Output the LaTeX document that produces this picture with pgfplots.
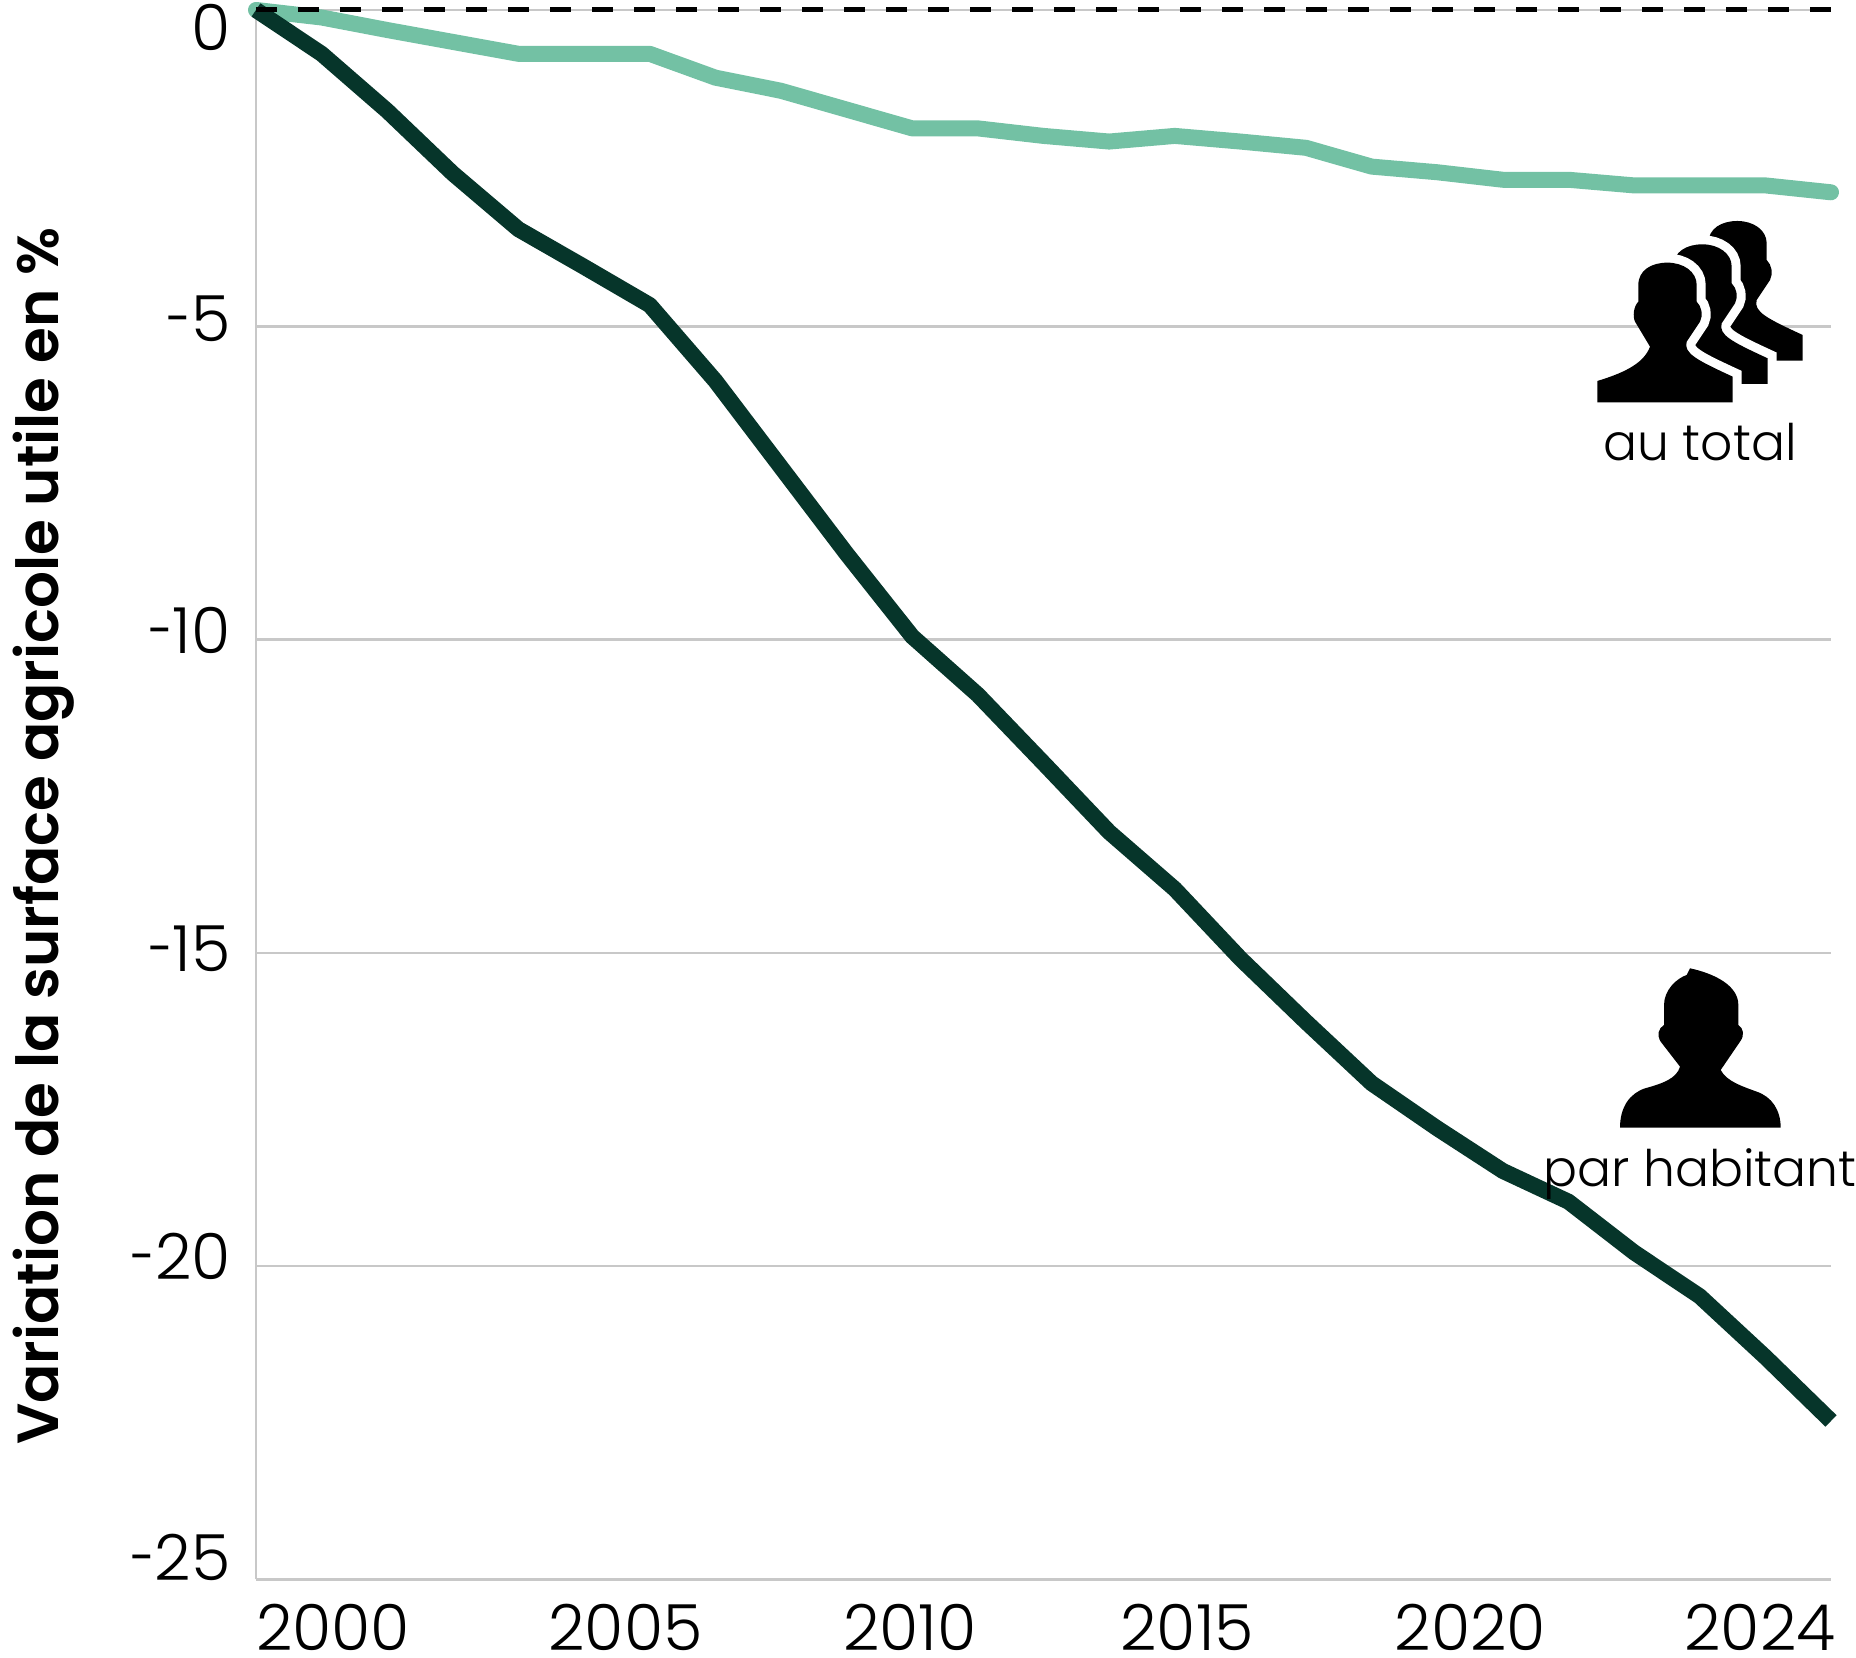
\documentclass[border=0pt]{standalone}
\usepackage{fontspec}
\setmainfont{Poppins Light}[BoldFont={Poppins SemiBold}]
\usepackage{pgfplots}
\pgfplotsset{compat=1.18}
\definecolor{gridc}{HTML}{C8C8C8}
\definecolor{lightg}{HTML}{73C1A4}
\definecolor{darkg}{HTML}{06352A}
\newcommand{\sx}[2]{\makebox[0pt]{\kern#1pt\kern#1pt #2}}
\newcommand{\ry}[2]{\raisebox{#1pt}[0pt][0pt]{#2}}
\newcommand{\hy}{\scalebox{0.72}[1]{-}}
\newcommand{\personback}{(340,607) -- (295,305) -- (295,255) .. controls (295,210) and (335,188) .. (382,188) .. controls (430,188) and (470,215) .. (470,255) -- (470,305) .. controls (485,320) and (490,345) .. (480,365) -- (440,425) .. controls (430,460) and (470,480) .. (578,530) -- (578,607) -- cycle}
\newcommand{\personedge}{(330,205) .. controls (345,193) and (362,188) .. (382,188) .. controls (430,188) and (470,215) .. (470,255) -- (470,305) .. controls (485,320) and (490,345) .. (480,365) -- (440,425) .. controls (430,460) and (470,480) .. (578,530) -- (578,640)}
\newcommand{\personfront}{(172,607) -- (172,543) .. controls (240,522) and (310,495) .. (330,440) -- (285,365) .. controls (278,350) and (280,320) .. (295,305) -- (295,255) .. controls (295,210) and (335,188) .. (382,188) .. controls (430,188) and (470,215) .. (470,255) -- (470,305) .. controls (485,320) and (490,345) .. (480,365) -- (440,425) .. controls (430,460) and (470,480) .. (578,530) -- (578,607) -- cycle}
\begin{document}
\begin{tikzpicture}
\useasboundingbox (-128pt,-39.25pt) rectangle (800pt,789.75pt);
\begin{axis}[
  at={(0pt,0pt)}, anchor=south west,
  scale only axis, width=787.5pt, height=784.75pt,
  xmin=2000, xmax=2024, ymin=-25, ymax=0.05,
  clip=false,
  axis x line*=bottom, axis y line*=left,
  axis line style={gridc, line width=1.2pt, -},
  major tick length=0pt,
  ymajorgrids, major grid style={gridc, line width=1.2pt},
  xtick={2000,2005,2010,2015,2020,2024},
  xticklabels={\sx{38.5}{2000},\sx{20.7}{2005},\sx{-1.2}{2010},\sx{-26.6}{2015},\sx{-49}{2020},\sx{-35.5}{2024}},
  ytick={0.05,-5,-10,-15,-20,-25},
  yticklabels={\ry{-20.2}{0},\ry{-7.35}{\hy 5},\ry{-6.85}{\hy 10},\ry{-9.05}{\hy 15},\ry{-6.85}{\hy 20},\ry{-0.4}{\hy 25}},
  tick label style={font=\fontsize{31.8}{31.8}\selectfont, inner sep=0pt},
  yticklabel style={anchor=east, xshift=-12.5pt},
  xticklabel style={anchor=north, yshift=-12pt},
  ylabel={\textbf{Variation de la surface agricole utile en \%}},
  ylabel style={font=\fontsize{29}{29}\selectfont, at={(axis description cs:-0.135,0.4737)}, anchor=center, inner sep=0pt},
]
\addplot[lightg, line width=8pt, line cap=round, line join=round] coordinates {
(2000,0.05)(2001,-0.07)(2002,-0.27)(2003,-0.46)(2004,-0.65)(2005,-0.65)(2006,-0.65)(2007,-1.03)(2008,-1.24)(2009,-1.54)(2010,-1.84)(2011,-1.84)(2012,-1.96)(2013,-2.05)(2014,-1.96)(2015,-2.05)(2016,-2.15)(2017,-2.45)(2018,-2.54)(2019,-2.66)(2020,-2.66)(2021,-2.75)(2022,-2.75)(2023,-2.75)(2024,-2.86)};
\addplot[darkg, line width=8pt, line join=round] coordinates {
(2000,0.05)(2001,-0.65)(2002,-1.56)(2003,-2.56)(2004,-3.45)(2005,-4.05)(2006,-4.66)(2007,-5.87)(2008,-7.25)(2009,-8.63)(2010,-9.95)(2011,-10.88)(2012,-11.97)(2013,-13.07)(2014,-13.98)(2015,-15.09)(2016,-16.10)(2017,-17.08)(2018,-17.80)(2019,-18.48)(2020,-18.97)(2021,-19.78)(2022,-20.48)(2023,-21.45)(2024,-22.47)};
\addplot[black, line width=2.5pt, dash pattern=on 10.5pt off 10.5pt] coordinates {(2000,0.05)(2024,0.05)};
\end{axis}
% icons
\begin{scope}[shift={(642pt,689.75pt)}, x=0.16667pt, y=-0.16667pt]
  \begin{scope}[shift={(210,-125)}]
    \fill[black] \personback;
  \end{scope}
  \begin{scope}[shift={(105,-55)}]
    \draw[white, line width=9pt] \personedge;
    \fill[black] \personback;
  \end{scope}
  \draw[white, line width=9pt] \personedge;
  \fill[black] \personfront;
\end{scope}
\begin{scope}[shift={(637pt,314.75pt)}, x=0.16667pt, y=-0.16667pt]
  \fill[black] (270,533) .. controls (270,470) and (300,430) .. (345,415) .. controls (400,400) and (440,385) .. (450,350) -- (392,275) .. controls (380,255) and (385,235) .. (402,225) -- (402,165) .. controls (402,120) and (440,85) .. (470,75) -- (480,55) .. controls (550,70) and (625,105) .. (625,165) -- (625,225) .. controls (640,235) and (645,255) .. (630,275) -- (572,360) .. controls (590,395) and (640,410) .. (680,425) .. controls (725,440) and (752,480) .. (752,533) -- cycle;
\end{scope}
\node[font=\fontsize{25.2}{25.2}\selectfont, inner sep=0pt] at (722pt,568.5pt) {au total};
\node[font=\fontsize{25.2}{25.2}\selectfont, inner sep=0pt] at (722pt,202.6pt) {par habitant};
\end{tikzpicture}
\end{document}
